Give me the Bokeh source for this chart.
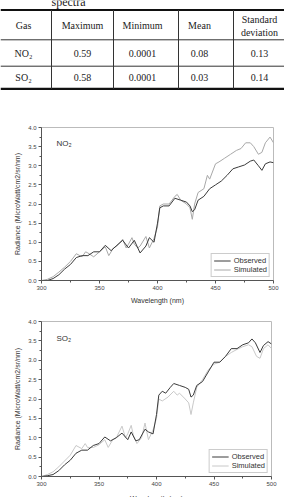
from bokeh.plotting import figure
from bokeh.models import Range1d, FixedTicker, PrintfTickFormatter, Label
from bokeh.core.properties import value
from bokeh.embed import file_html
from bokeh.resources import INLINE

# ---------------- table data ----------------
caption = "spectra"
headers = ["Gas", "Maximum", "Minimum", "Mean"]
header_last = ["Standard", "deviation"]
gases = ["NO\u2082", "SO\u2082"]
maximum = [0.59, 0.58]
minimum = [0.0001, 0.0001]
mean = [0.08, 0.03]
std_dev = [0.13, 0.14]

# ---------------- chart data ----------------
x_ticks = [300, 350, 400, 450, 500]
x_minor = [325, 375, 425, 475]
y_ticks = [0.0, 0.5, 1.0, 1.5, 2.0, 2.5, 3.0, 3.5, 4.0]
y_minor = [0.25, 0.75, 1.25, 1.75, 2.25, 2.75, 3.25, 3.75]
x_title = "Wavelength (nm)"
y_title = "Radiance (MicroWatt/cm2/sr/nm)"

no2_obs_wl = [300, 305, 310, 315, 320, 325, 330, 335, 340, 345, 350, 355, 360, 365, 370, 375,
              380, 385, 390, 393, 397, 400, 402, 405, 410, 415, 420, 425, 428, 430, 432, 435,
              440, 445, 450, 455, 460, 465, 470, 475, 480, 483, 487, 490, 493, 497, 500]
no2_obs = [0.0, 0.0, 0.05, 0.15, 0.3, 0.42, 0.6, 0.65, 0.65, 0.75, 0.75, 0.92, 0.78, 0.92, 1.05, 0.85,
           1.05, 0.72, 0.9, 1.12, 1.0, 1.5, 1.9, 1.95, 1.95, 2.15, 2.1, 2.05, 1.95, 1.8, 1.85, 2.1,
           2.2, 2.4, 2.5, 2.6, 2.75, 2.92, 2.97, 3.02, 3.12, 3.15, 3.0, 2.88, 3.05, 3.1, 3.08]

no2_sim_wl = [300, 305, 310, 315, 320, 325, 330, 335, 338, 340, 345, 350, 355, 358, 362, 365, 370,
              373, 375, 378, 380, 383, 385, 390, 393, 397, 400, 402, 405, 410, 415, 417, 420, 425,
              428, 430, 432, 435, 440, 443, 445, 450, 453, 458, 463, 468, 472, 476, 480, 483, 487,
              490, 493, 497, 500]
no2_sim = [0.0, 0.03, 0.1, 0.22, 0.35, 0.5, 0.7, 0.62, 0.75, 0.72, 0.62, 0.75, 0.88, 0.65, 0.85, 0.9, 1.08,
           0.85, 0.95, 1.12, 0.95, 0.85, 0.9, 1.15, 0.85, 1.1, 1.4, 1.95, 2.0, 2.0, 2.2, 2.25, 2.1, 2.0,
           1.9, 1.6, 2.0, 2.3, 2.4, 2.75, 2.65, 3.05, 3.1, 3.2, 3.3, 3.4, 3.45, 3.6, 3.6, 3.5, 3.3,
           3.35, 3.6, 3.75, 3.6]

so2_obs_wl = [300, 305, 310, 315, 320, 325, 330, 335, 340, 345, 350, 355, 360, 365, 370, 375, 378,
              382, 385, 390, 393, 397, 400, 402, 405, 408, 412, 415, 420, 425, 428, 430, 432, 435,
              440, 445, 450, 455, 460, 465, 470, 475, 480, 483, 486, 490, 493, 497, 500]
so2_obs = [0.0, 0.02, 0.05, 0.15, 0.3, 0.42, 0.6, 0.68, 0.68, 0.8, 0.85, 1.02, 0.92, 1.0, 1.12, 0.95, 1.15,
           0.92, 0.95, 1.22, 1.15, 1.1, 1.6, 2.1, 2.2, 2.15, 2.3, 2.4, 2.35, 2.3, 2.25, 2.05, 2.1, 2.35,
           2.45, 2.7, 2.95, 2.95, 3.1, 3.3, 3.3, 3.4, 3.45, 3.55, 3.45, 3.2, 3.38, 3.48, 3.42]

so2_sim_wl = [300, 305, 310, 315, 320, 325, 330, 335, 338, 340, 345, 350, 355, 358, 362, 365, 370,
              373, 375, 378, 380, 383, 387, 390, 393, 397, 400, 402, 405, 410, 415, 418, 420, 425,
              428, 430, 432, 435, 440, 445, 450, 455, 460, 465, 470, 475, 480, 483, 487, 490, 493,
              497, 500]
so2_sim = [0.0, 0.05, 0.12, 0.25, 0.4, 0.55, 0.8, 0.72, 0.85, 0.75, 0.75, 0.82, 0.95, 0.75, 0.95, 1.0, 1.3,
           1.0, 1.1, 1.32, 1.05, 0.85, 1.0, 1.38, 0.95, 1.2, 1.5, 2.0, 1.95, 2.05, 2.2, 2.1, 2.15, 2.0,
           1.9, 1.6, 1.9, 2.3, 2.5, 2.75, 2.9, 2.95, 3.1, 3.2, 3.28, 3.35, 3.4, 3.35, 3.1, 3.05, 3.3,
           3.4, 3.3]

SERIF = value("Liberation Serif")
SANS = "Liberation Sans"

# ---------------- table figure ----------------
W = 284
tab_h = 106
t = figure(width=W, height=tab_h, x_range=Range1d(0, W), y_range=Range1d(0, tab_h),
           output_backend="svg", toolbar_location=None, x_axis_type=None, y_axis_type=None,
           min_border=0, min_border_left=0, min_border_right=0, min_border_top=0, min_border_bottom=0)
t.outline_line_color = None
t.xgrid.visible = False
t.ygrid.visible = False


def ty(v):
    # distance from the top of the table panel -> panel y coordinate
    return tab_h - v


col_edges = [0, 51, 113, 178, 233, 284]
col_centers = [23, 82, 142, 199, 259]
line_top, line_head, line_mid, line_bot = 9.5, 39.3, 65.7, 88.3
row_centers = [52.5, 77]

t.segment(x0=[0, 0], x1=[W, W], y0=[ty(line_top), ty(line_bot)], y1=[ty(line_top), ty(line_bot)],
          line_color="#111111", line_width=2.2)
t.segment(x0=[0, 0], x1=[W, W], y0=[ty(line_head), ty(line_mid)], y1=[ty(line_head), ty(line_mid)],
          line_color="#333333", line_width=1)
t.segment(x0=col_edges[1:-1], x1=col_edges[1:-1], y0=[ty(line_top)] * 4, y1=[ty(line_bot)] * 4,
          line_color="#333333", line_width=1)

t.text(x=[68], y=[ty(1)], text=[caption], text_font=SERIF, text_font_size="12px",
       text_align="center", text_baseline="middle", text_color="#222222")
t.text(x=col_centers[:4], y=[ty(25)] * 4, text=headers, text_font=SERIF, text_font_size="10px",
       text_align="center", text_baseline="middle", text_color="#222222")
t.text(x=[col_centers[4]] * 2, y=[ty(18.5), ty(32)], text=header_last, text_font=SERIF,
       text_font_size="10px", text_align="center", text_baseline="middle", text_color="#222222")
for i, g in enumerate(gases):
    cells = [g, str(maximum[i]), str(minimum[i]), str(mean[i]), str(std_dev[i])]
    t.text(x=col_centers, y=[ty(row_centers[i])] * 5, text=cells, text_font=SERIF, text_font_size="10px",
           text_align="center", text_baseline="middle", text_color="#222222")


def make_chart(h, top, bottom, right, ox, oy, sx, sy, gas, sim_color, with_xtitle):
    p = figure(width=W, height=h, x_range=Range1d(300, 500), y_range=Range1d(0, 4),
               output_backend="svg", toolbar_location=None,
               min_border_left=41, min_border_right=right, min_border_top=top, min_border_bottom=bottom)
    p.xgrid.visible = False
    p.ygrid.visible = False
    p.outline_line_color = "#bbbbbb"
    p.outline_line_width = 1
    p.line(sx, sy, line_color=sim_color, line_width=1, legend_label="Simulated")
    p.line(ox, oy, line_color="#3a3a3a", line_width=1, legend_label="Observed")
    p.xaxis.ticker = FixedTicker(ticks=x_ticks, minor_ticks=x_minor)
    p.yaxis.ticker = FixedTicker(ticks=y_ticks, minor_ticks=y_minor)
    p.xaxis.formatter = PrintfTickFormatter(format="%d")
    p.yaxis.formatter = PrintfTickFormatter(format="%.1f")
    p.yaxis.axis_label = y_title
    if with_xtitle:
        p.xaxis.axis_label = x_title
    for ax in (p.xaxis, p.yaxis):
        ax.axis_line_color = "#555555"
        ax.major_tick_line_color = "#555555"
        ax.minor_tick_line_color = "#555555"
        ax.major_tick_in = 0
        ax.major_tick_out = 3
        ax.minor_tick_in = 0
        ax.minor_tick_out = 2
        ax.major_label_text_font = SANS
        ax.major_label_text_font_size = "6px"
        ax.major_label_text_color = "#444444"
        ax.major_label_standoff = 2
        ax.axis_label_text_font = SANS
        ax.axis_label_text_font_size = "7px"
        ax.axis_label_text_font_style = "normal"
        ax.axis_label_text_color = "#333333"
        ax.axis_label_standoff = 4
    p.add_layout(Label(x=313, y=3.57, text=gas, text_font=SANS, text_font_size="8px",
                       text_baseline="middle", text_color="#333333"))
    lg = p.legend[0]
    items = list(lg.items)
    lg.items = [items[1], items[0]]
    lg.location = "bottom_right"
    lg.margin = 3
    lg.padding = 2
    lg.spacing = 0
    lg.label_text_font = SANS
    lg.label_text_font_size = "7.5px"
    lg.label_text_color = "#333333"
    lg.label_height = 7
    lg.glyph_height = 7
    lg.glyph_width = 17
    lg.label_standoff = 3
    lg.border_line_color = "#999999"
    lg.border_line_width = 1
    lg.background_fill_alpha = 1
    return p


p1 = make_chart(200, 21, 24, 11, no2_obs_wl, no2_obs, no2_sim_wl, no2_sim, "NO\u2082", "#a8a8a8", True)
p2 = make_chart(183, 15, 13, 13, so2_obs_wl, so2_obs, so2_sim_wl, so2_sim, "SO\u2082", "#c8c8c8", False)

# strip under the second chart carrying its x-axis title (runs off the page edge as in the source)
strip_h = 497 - tab_h - 200 - 183
s = figure(width=W, height=strip_h, x_range=p2.x_range, y_range=Range1d(0, strip_h),
           output_backend="svg", toolbar_location=None, x_axis_type=None, y_axis_type=None,
           min_border_left=41, min_border_right=13, min_border_top=0, min_border_bottom=0)
s.outline_line_color = None
s.xgrid.visible = False
s.ygrid.visible = False
s.text(x=[400], y=[strip_h - 5], text=[x_title], text_font=value(SANS), text_font_size="7px",
       text_align="center", text_baseline="middle", text_color="#333333")

html = file_html([t, p1, p2, s], INLINE)
html = html.replace("<body>", "<body style=\"margin:0\">", 1)
open("out.html", "w").write(html)
